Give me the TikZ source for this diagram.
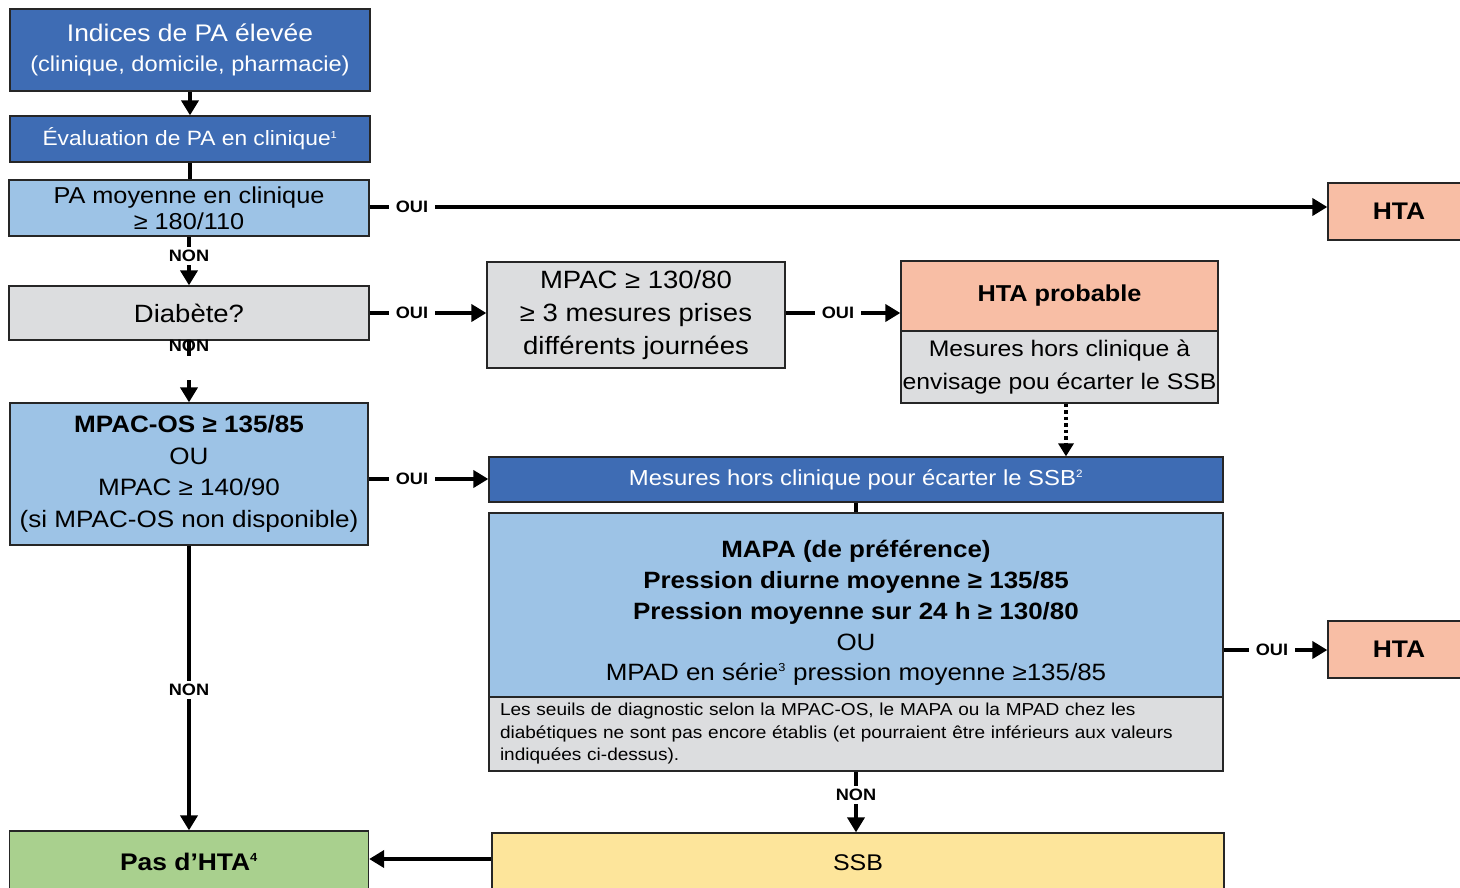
\documentclass[tikz,border=0pt]{standalone}
\usepackage{fontspec}
\setmainfont{Liberation Sans}[FakeStretch=1.1]
\usepackage{tikz}
\usetikzlibrary{arrows.meta,positioning}
\usepackage{xcolor}
\definecolor{dblue}{RGB}{62,108,180}
\definecolor{lblue}{RGB}{157,195,230}
\definecolor{lgray}{RGB}{220,221,223}
\definecolor{salmon}{RGB}{248,190,165}
\definecolor{lgreen}{RGB}{169,208,142}
\definecolor{lyellow}{RGB}{253,229,155}
\newcommand{\fs}[2]{\fontsize{#1}{#2}\selectfont}
\newcommand{\expo}[1]{\textsuperscript{\scalebox{0.7}{#1}}}

\begin{document}
\begin{tikzpicture}[x=1pt,y=-1pt,
	box/.style={draw=black!85,line width=1.3pt,inner sep=0pt,align=center},
	lab/.style={font=\fs{16.5}{18}\bfseries,inner xsep=7pt,inner ysep=3pt},
	lin/.style={line width=4.5pt},
	arr/.style={line width=4.5pt,-{Triangle[length=15pt,width=17pt]}},
	dots/.style={line width=3.5pt,dash pattern=on 3.5pt off 3pt,-{Triangle[length=13pt,width=15pt]}}]
			\useasboundingbox (0,0) rectangle (1460,887);
			\clip (0,0) rectangle (1460,887);
			% left column
			\node[box,fill=dblue,text=white,minimum width=360pt,minimum height=82pt,font=\fs{24}{30}] (ind) at (190,50)
				{Indices de PA élevée\\\fontsize{21.5}{30}\selectfont(clinique, domicile, pharmacie)};
			\node[box,fill=dblue,text=white,minimum width=360pt,minimum height=46pt,font=\fs{20.7}{24}] (eval) at (190,139)
				{Évaluation de PA en clinique\expo{1}};
			\node[box,fill=lblue,minimum width=360pt,minimum height=56pt,font=\fs{23}{26}] (pam) at (189,208)
				{PA moyenne en clinique\\≥ 180/110};
			\node[box,fill=lgray,minimum width=360pt,minimum height=54pt,font=\fs{25}{30}] (diab) at (189,313) {Diabète?};
			\node[box,fill=lblue,minimum width=358pt,minimum height=142pt,font=\fs{23.7}{31.7}] (mpacos) at (189,474)
				{\textbf{MPAC-OS ≥ 135/85}\\OU\\MPAC ≥ 140/90\\(si MPAC-OS non disponible)};
			\node[box,fill=lgreen,minimum width=359pt,minimum height=62pt,font=\fs{24}{28}\bfseries] (pas) at (189,862)
				{Pas d’HTA\expo{4}};
			% middle
			\node[box,fill=lgray,minimum width=298pt,minimum height=106pt,font=\fs{25}{33}] (mpac) at (636,315)
				{MPAC ≥ 130/80\\≥ 3 mesures prises\\différents journées};
			\node[box,fill=salmon,minimum width=317pt,minimum height=70pt,font=\fs{23}{28}\bfseries] (prob) at (1059.5,296) {HTA probable};
			\node[box,fill=lgray,minimum width=317pt,minimum height=72pt,font=\fs{22.5}{33}] (probb) at (1059.5,367)
				{Mesures hors clinique à\\envisage pou écarter le SSB};
			\node[box,fill=dblue,text=white,minimum width=734pt,minimum height=45pt,font=\fs{21.7}{26}] (mes) at (856,479.5)
				{Mesures hors clinique pour écarter le SSB\expo{2}};
			\node[box,fill=lblue,minimum width=734pt,minimum height=184pt] (mapa) at (856,605) {};
			\node[align=center,font=\fs{23.6}{30.8}] (mapatxt) at (856,613)
				{\textbf{MAPA (de préférence)}\\\textbf{Pression diurne moyenne ≥ 135/85}\\\textbf{Pression moyenne sur 24 h ≥ 130/80}\\OU\\MPAD en série\expo{3} pression moyenne ≥135/85};
			\node[box,fill=lgray,minimum width=734pt,minimum height=74pt,text width=712pt,align=left,font=\fs{17.3}{22.5}] (note) at (856,734)
				{Les seuils de diagnostic selon la MPAC-OS, le MAPA ou la MPAD chez les\\diabétiques ne sont pas encore établis (et pourraient être inférieurs aux valeurs\\indiquées ci-dessus).};
			\node[box,fill=lyellow,minimum width=732pt,minimum height=60pt,font=\fs{22.7}{26}] (ssb) at (858,863) {SSB};
			% right
			\node[box,fill=salmon,minimum width=142pt,minimum height=57pt,font=\fs{24}{28}\bfseries] (hta1) at (1399,211.5) {HTA};
			\node[box,fill=salmon,minimum width=142pt,minimum height=57pt,font=\fs{24}{28}\bfseries] (hta2) at (1399,649.5) {HTA};
			% labels
			\foreach \n/\x/\y in {oui1/412/207,oui2/412/313,oui3/838/313,oui4/412/479,oui5/1272/650}
			\node[lab] (\n) at (\x,\y) {OUI};
			\foreach \n/\x/\y in {non1/189/256,non3/189/690,non4/856/795}
			\node[lab] (\n) at (\x,\y) {NON};
			\node[lab,inner sep=0pt] (non2) at (189,346) {NON};
			\coordinate (nb1) at (189,356);
			\coordinate (nb2) at (189,380);
			% connectors
			\draw[arr] (ind) -- (eval);
			\draw[lin] (eval) -- (eval.south |- pam.north);
			\draw[lin] (pam.east |- oui1) -- (oui1);
			\draw[arr] (oui1) -- (oui1 -| hta1.west);
			\draw[lin] (pam) -- (non1);
			\draw[arr] (non1) -- (diab);
			\draw[lin] (diab.east |- oui2) -- (oui2);
			\draw[arr] (oui2) -- (oui2 -| mpac.west);
			\draw[lin] (mpac.east |- oui3) -- (oui3);
			\draw[arr] (oui3) -- (oui3 -| prob.west);
			\draw[dots] ([xshift=6.5pt]probb.south) -- ([xshift=6.5pt]probb.south |- mes.north);
			\draw[lin] (diab) -- (nb1);
			\draw[arr] (nb2) -- (mpacos);
			\draw[lin] (mpacos.east |- oui4) -- (oui4);
			\draw[arr] (oui4) -- (oui4 -| mes.west);
			\draw[lin] (mes) -- (mapa);
			\draw[lin] (mapa.east |- oui5) -- (oui5);
			\draw[arr] (oui5) -- (oui5 -| hta2.west);
			\draw[lin] (note) -- (non4);
			\draw[arr] (non4) -- (non4 |- ssb.north);
			\draw[lin] (mpacos) -- (non3);
			\draw[arr] (non3) -- (pas);
			\draw[arr] ([yshift=4pt]ssb.west) -- ([yshift=4pt]ssb.west -| pas.east);
		\end{tikzpicture}
\end{document}
